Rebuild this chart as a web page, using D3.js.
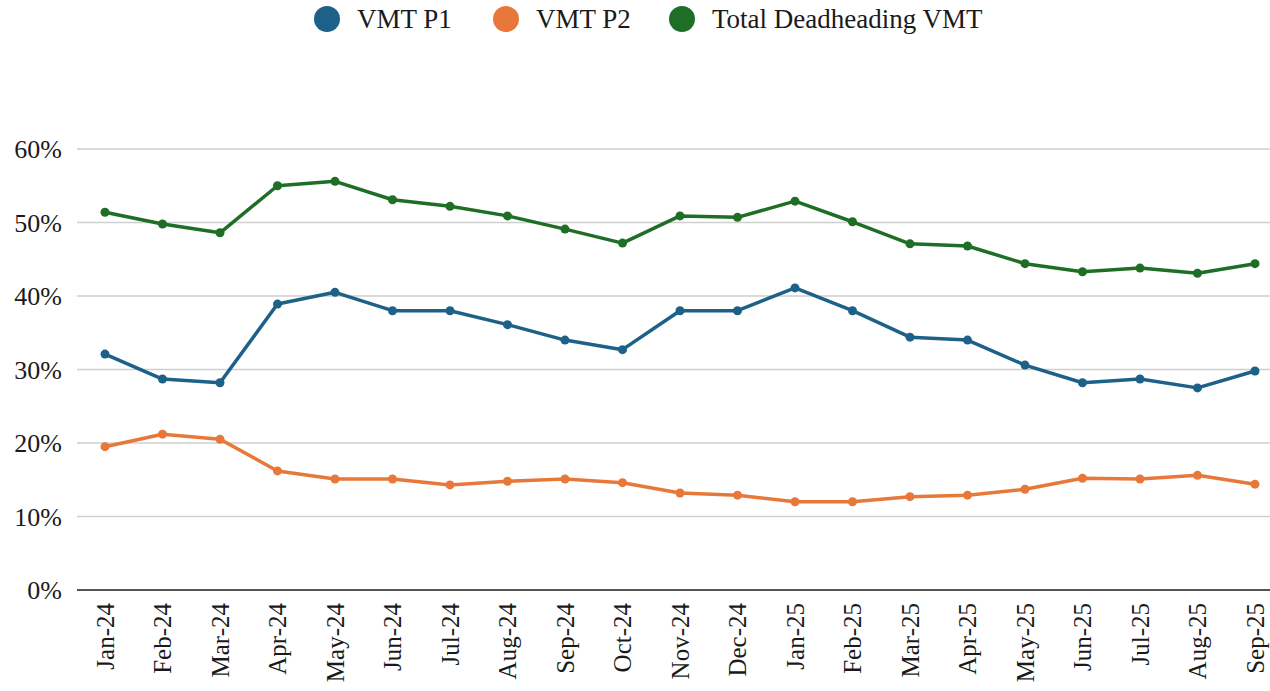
<!DOCTYPE html>
<html><head><meta charset="utf-8">
<script src="https://cdn.jsdelivr.net/npm/d3@7"></script>
<style>html,body{margin:0;padding:0;background:#fff;}svg{display:block;}</style>
</head><body>
<svg id="chart" width="1270" height="691"></svg>
<script>
const months = ["Jan-24","Feb-24","Mar-24","Apr-24","May-24","Jun-24","Jul-24","Aug-24","Sep-24","Oct-24","Nov-24","Dec-24","Jan-25","Feb-25","Mar-25","Apr-25","May-25","Jun-25","Jul-25","Aug-25","Sep-25"];
const vmtP1 = [32.1,28.7,28.2,38.9,40.5,38.0,38.0,36.1,34.0,32.7,38.0,38.0,41.1,38.0,34.4,34.0,30.6,28.2,28.7,27.5,29.8];
const vmtP2 = [19.5,21.2,20.5,16.2,15.1,15.1,14.3,14.8,15.1,14.6,13.2,12.9,12.0,12.0,12.7,12.9,13.7,15.2,15.1,15.6,14.4];
const totalDH = [51.4,49.8,48.6,55.0,55.6,53.1,52.2,50.9,49.1,47.2,50.9,50.7,52.9,50.1,47.1,46.8,44.4,43.3,43.8,43.1,44.4];
const yTicks = [0,10,20,30,40,50,60];
const seriesNames = ["VMT P1","VMT P2","Total Deadheading VMT"];
const seriesColors = ["#1d6188","#e8783a","#1f6e26"];

const svg = d3.select("#chart");
const font = "'Liberation Serif','Times New Roman',serif";
const x = d3.scalePoint().domain(months).range([105,1255]);
const y = d3.scaleLinear().domain([0,60]).range([590,149]);
const gridL = 77, gridR = 1270;

svg.append("g").selectAll("line").data(yTicks.filter(d=>d>0)).join("line")
  .attr("x1",gridL).attr("x2",gridR).attr("y1",d=>y(d)).attr("y2",d=>y(d))
  .attr("stroke","#cfcfcf").attr("stroke-width",1.5);
svg.append("line").attr("x1",gridL).attr("x2",gridR).attr("y1",y(0)).attr("y2",y(0))
  .attr("stroke","#555").attr("stroke-width",2);

svg.append("g").selectAll("text").data(yTicks).join("text")
  .attr("x",62).attr("y",d=>y(d)).attr("dy","0.35em")
  .attr("text-anchor","end").attr("font-family",font).attr("font-size",26).attr("fill","#1a1a1a")
  .text(d=>d+"%");

svg.append("g").selectAll("text").data(months).join("text")
  .attr("transform",d=>`translate(${x(d)},${603}) rotate(-90)`)
  .attr("dy","0.35em").attr("text-anchor","end")
  .attr("font-family",font).attr("font-size",25).attr("fill","#1a1a1a")
  .text(d=>d);

const data = [vmtP1, vmtP2, totalDH];
const line = d3.line().x((d,i)=>x(months[i])).y(d=>y(d));
data.forEach((vals,k)=>{
  svg.append("path").datum(vals).attr("d",line).attr("fill","none")
    .attr("stroke",seriesColors[k]).attr("stroke-width",3.5).attr("stroke-linejoin","round");
  svg.append("g").selectAll("circle").data(vals).join("circle")
    .attr("cx",(d,i)=>x(months[i])).attr("cy",d=>y(d)).attr("r",4.5)
    .attr("fill",seriesColors[k]);
});

const legX = [327,506,682];
const lg = svg.append("g");
seriesNames.forEach((n,i)=>{
  lg.append("circle").attr("cx",legX[i]).attr("cy",19).attr("r",13).attr("fill",seriesColors[i]);
  lg.append("text").attr("x",legX[i]+30).attr("y",19).attr("dy","0.35em")
    .attr("font-family",font).attr("font-size",27).attr("fill","#1a1a1a").text(n);
});
</script>
</body></html>
